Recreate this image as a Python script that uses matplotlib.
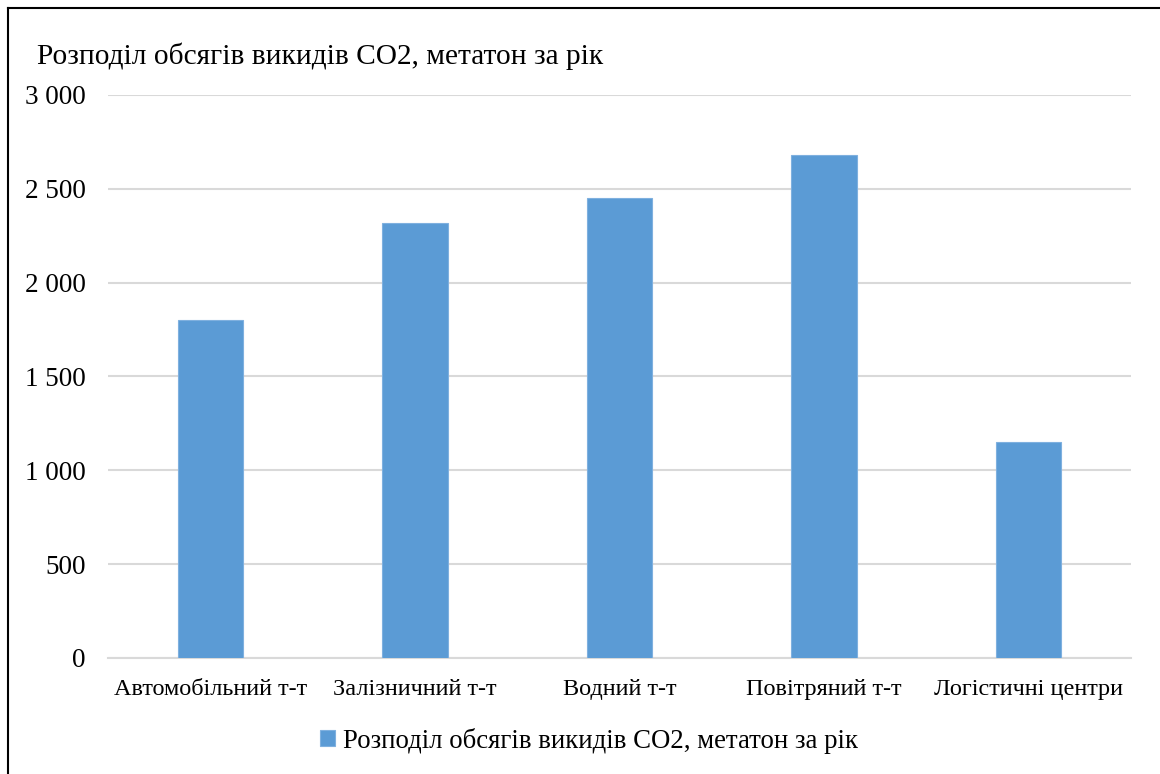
import matplotlib
import matplotlib.pyplot as plt
from matplotlib.lines import Line2D
from matplotlib.ticker import FuncFormatter
matplotlib.use('Agg')

categories = ["Автомобільний т-т", "Залізничний т-т", "Водний т-т",
              "Повітряний т-т", "Логістичні центри"]
values = [1800, 2320, 2450, 2680, 1150]
series_name = "Розподіл обсягів викидів CO2, метатон за рік"
yticks = [0, 500, 1000, 1500, 2000, 2500, 3000]


def plot_emissions():
    """plot_emissions"""
    plt.rcParams['font.family'] = ['Liberation Serif', 'DejaVu Serif']
    fig = plt.figure(figsize=(11.6, 7.74), dpi=100)
    ax = fig.add_axes([0.0931, 0.1499, 0.8819, 0.7274])

    x = range(len(categories))
    ax.bar(x, values, width=0.32, color="#5B9BD5", edgecolor="#7FB0DF",
           linewidth=0.8, label=series_name, zorder=3)
    ax.set_xlim(-0.5, len(categories) - 0.5)
    ax.set_ylim(0, 3000)
    ax.set_yticks(yticks)
    ax.yaxis.set_major_formatter(
        FuncFormatter(lambda v, p: f"{int(v):,}".replace(",", " ")))
    ax.set_xticks(list(x))
    ax.set_xticklabels(categories)
    ax.tick_params(axis="both", length=0, colors="black")
    ax.tick_params(axis="y", labelsize=19.5, pad=16)
    ax.tick_params(axis="x", labelsize=17.5, pad=15)
    ax.grid(axis="y", color="#D9D9D9", linewidth=1.5, zorder=0)
    for side in ["top", "right", "left"]:
        ax.spines[side].set_visible(False)
    ax.spines["bottom"].set_color("#D9D9D9")
    ax.spines["bottom"].set_linewidth(1.5)

    fig.text(0.032, 0.917, series_name, fontsize=21.2, ha="left",
             va="baseline")
    fig.legend(loc="center", bbox_to_anchor=(0.508, 0.043), frameon=False,
               fontsize=19.3, handlelength=0.55, handleheight=0.55,
               handletextpad=0.3)

    # chart border (top and left edges visible)
    fig.add_artist(Line2D([0.0069, 0.0069], [0, 0.9897], color="black",
                          linewidth=1.5, transform=fig.transFigure))
    fig.add_artist(Line2D([0.0069, 1.0], [0.9897, 0.9897], color="black",
                          linewidth=1.5, transform=fig.transFigure))

    fig.savefig("out.png", dpi=100)


if __name__ == "__main__":
    plot_emissions()
